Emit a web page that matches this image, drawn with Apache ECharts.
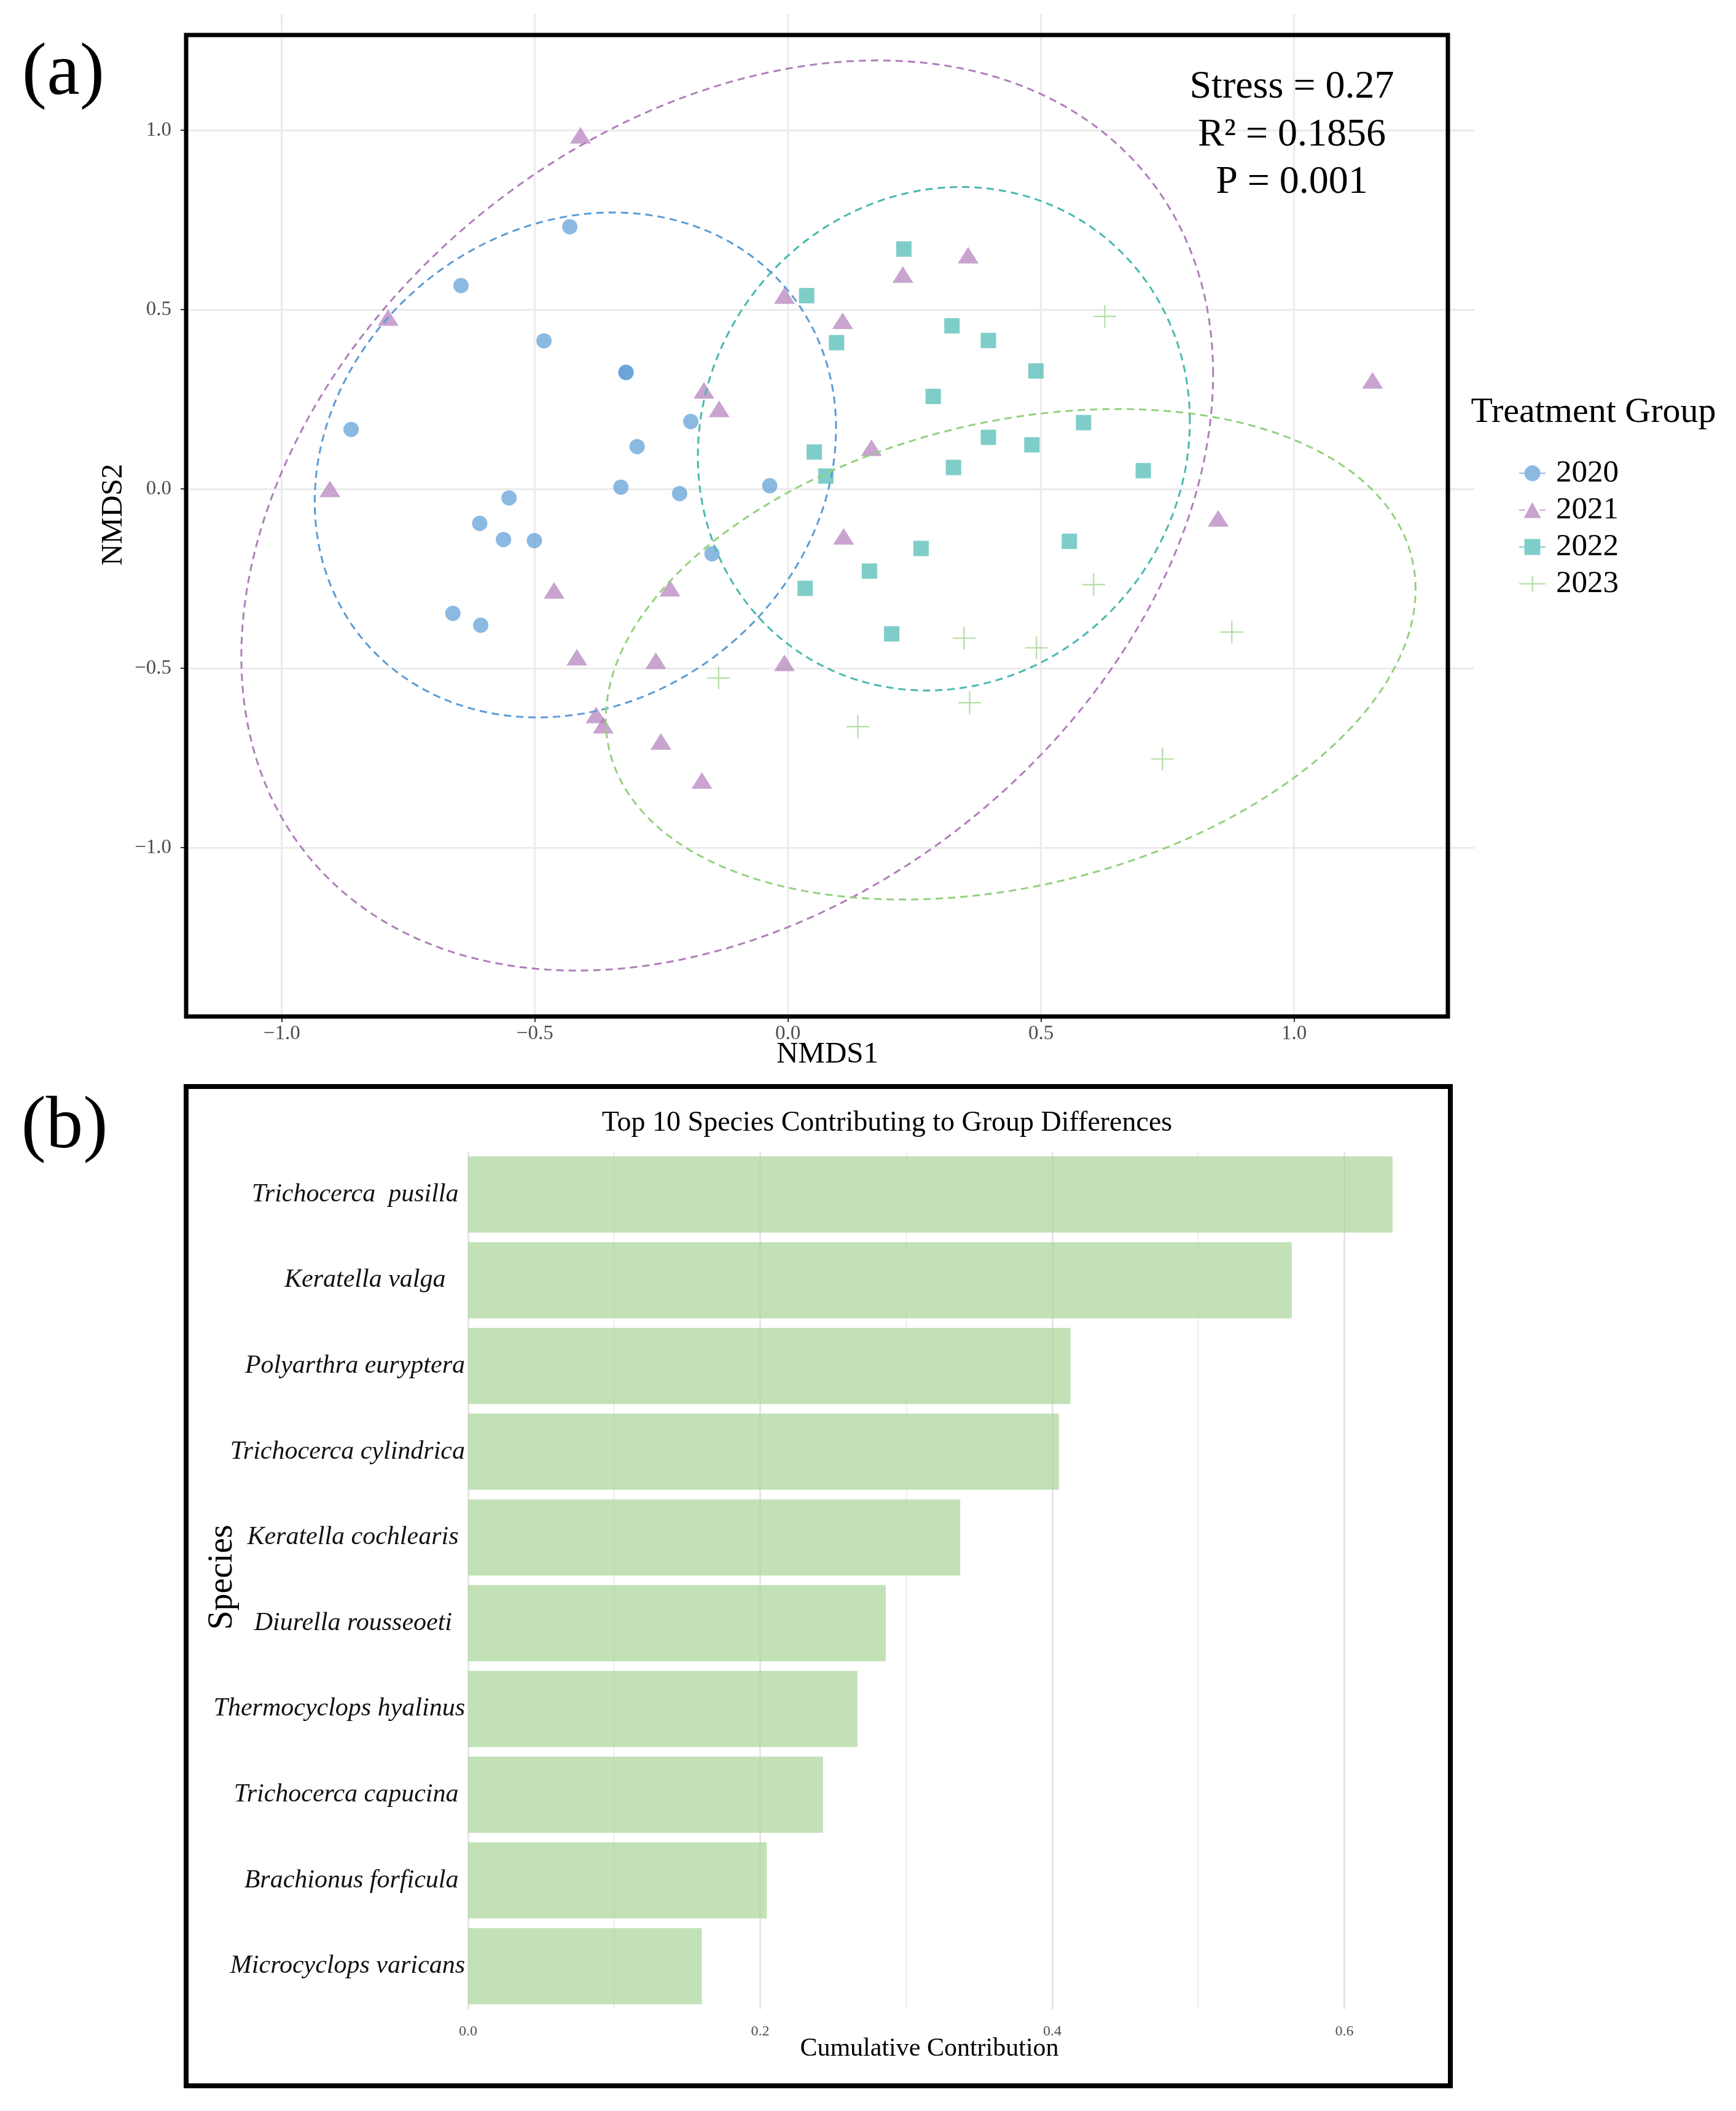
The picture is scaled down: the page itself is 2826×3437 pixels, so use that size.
<!DOCTYPE html>
<html>
<head>
<meta charset="utf-8">
<title>NMDS ordination and top contributing species</title>
<script src="https://cdn.jsdelivr.net/npm/echarts@6/dist/echarts.min.js"></script>
<style>
  html, body { margin: 0; padding: 0; background: #fff; }
  #chart-container { width: 2826px; height: 3437px; }
</style>
</head>
<body>
<div id="chart-container"></div>
<script>
// ---- panel (a): NMDS scores, [NMDS1, NMDS2] ----
const pts2020 = [
  [-0.431, 0.731], [-0.646, 0.567], [-0.482, 0.413], [-0.320, 0.325], [-0.320, 0.325],
  [-0.863, 0.166], [-0.192, 0.188], [-0.298, 0.118], [-0.330, 0.005], [-0.214, -0.013],
  [-0.036, 0.009], [-0.551, -0.025], [-0.609, -0.096], [-0.562, -0.141], [-0.501, -0.144],
  [-0.150, -0.181], [-0.662, -0.347], [-0.607, -0.380]
];
const pts2021 = [
  [-0.410, 0.986], [-0.790, 0.478], [-0.905, 0.000], [-0.007, 0.539], [0.108, 0.469],
  [-0.166, 0.275], [-0.136, 0.223], [0.227, 0.598], [0.356, 0.652], [1.155, 0.303],
  [0.165, 0.115], [0.850, -0.082], [0.110, -0.132], [-0.462, -0.283], [-0.233, -0.277],
  [-0.417, -0.469], [-0.261, -0.479], [-0.007, -0.485], [-0.379, -0.630], [-0.365, -0.659],
  [-0.251, -0.704], [-0.170, -0.813]
];
const pts2022 = [
  [0.229, 0.669], [0.037, 0.539], [0.324, 0.455], [0.396, 0.414], [0.096, 0.408],
  [0.490, 0.329], [0.287, 0.258], [0.584, 0.185], [0.396, 0.144], [0.482, 0.123],
  [0.052, 0.103], [0.327, 0.060], [0.702, 0.051], [0.075, 0.036], [0.556, -0.146],
  [0.263, -0.166], [0.161, -0.229], [0.034, -0.277], [0.205, -0.404]
];
const pts2023 = [
  [0.626, 0.481], [0.604, -0.267], [0.877, -0.399], [0.348, -0.416], [0.491, -0.443],
  [-0.137, -0.527], [0.359, -0.596], [0.138, -0.663], [0.740, -0.753]
];

// confidence ellipses: [centre x, centre y, half width, half height, tilt (correlation)]
const ell2020 = [-0.420, 0.067, 0.515, 0.704, 0.145];
const ell2021 = [-0.120, -0.074, 0.960, 1.269, 0.31];
const ell2022 = [0.308, 0.140, 0.486, 0.702, 0.07];
const ell2023 = [0.440, -0.461, 0.800, 0.684, 0.265];

const groupNames = ["2020", "2021", "2022", "2023"];
const groupColors = ["#5b9bd5", "#b07eba", "#48b8b0", "#93d07e"];
const nmdsTicks = [-1, -0.5, 0, 0.5, 1];

// ---- panel (b): top 10 species ----
const species = [
  "Trichocerca  pusilla ",
  "Keratella valga   ",
  "Polyarthra euryptera",
  "Trichocerca cylindrica",
  "Keratella cochlearis ",
  "Diurella rousseoeti  ",
  "Thermocyclops hyalinus",
  "Trichocerca capucina ",
  "Brachionus forficula ",
  "Microcyclops varicans"
];
const contribution = [0.633, 0.564, 0.4125, 0.4045, 0.337, 0.286, 0.2666, 0.243, 0.2045, 0.160];
const contribTicks = [0, 0.2, 0.4, 0.6];
const contribGrid = [0, 0.1, 0.2, 0.3, 0.4, 0.5, 0.6];

const serif = "Liberation Serif";

let dom = document.getElementById("chart-container");
let myChart = echarts.init(dom, null, { renderer: "canvas" });

function minusFmt(v) {
  return (v < 0 ? "\u2212" : "") + Math.abs(v).toFixed(1);
}

// draw one ellipse from its parameters through the axis scales
function renderEllipse(params, api) {
  const cx = api.value(0), cy = api.value(1);
  const w = api.value(2), h = api.value(3), r = api.value(4);
  const k = Math.sqrt(1 - r * r);
  const points = [];
  for (let i = 0; i <= 200; i++) {
    const t = (i / 200) * Math.PI * 2;
    points.push(api.coord([
      cx + w * Math.cos(t),
      cy + h * (r * Math.cos(t) + k * Math.sin(t))
    ]));
  }
  return {
    type: "polyline",
    shape: { points: points },
    style: { stroke: api.visual("color"), fill: "none", lineWidth: 3, lineDash: [12, 8] }
  };
}

const lineL = "M0,11H9V13H0Z M31,11H40V13H31Z ";
const legendIcons = [
  "path://" + lineL + "M20,0A12,12 0 1,1 19.99,0Z",
  "path://" + lineL + "M20,0L33,24L7,24Z",
  "path://" + lineL + "M8,0H32V24H8Z",
  "path://M0,11H40V13H0Z M19,0H21V24H19Z"
];
const markers = ["circle", "triangle", "rect", "path://M0,9.4H20V10.6H0Z M9.4,0H10.6V20H9.4Z"];
const markerSizes = [25, [34, 27], 25, 37];
const groupPoints = [pts2020, pts2021, pts2022, pts2023];
const groupEllipses = [ell2020, ell2021, ell2022, ell2023];

let series = [];
groupNames.forEach(function (name, i) {
  series.push({
    name: name,
    type: "scatter",
    xAxisIndex: 0,
    yAxisIndex: 0,
    data: groupPoints[i],
    symbol: markers[i],
    symbolSize: markerSizes[i],
    itemStyle: { color: groupColors[i], opacity: 0.7 },
    z: 2
  });
});
groupNames.forEach(function (name, i) {
  series.push({
    name: name + " ellipse",
    type: "custom",
    xAxisIndex: 0,
    yAxisIndex: 0,
    renderItem: renderEllipse,
    encode: { x: 0, y: 1 },
    data: [groupEllipses[i]],
    itemStyle: { color: groupColors[i] },
    clip: false,
    silent: true,
    z: 3
  });
});
series.push({
  name: "Cumulative Contribution",
  type: "bar",
  xAxisIndex: 1,
  yAxisIndex: 1,
  data: contribution,
  barWidth: 124,
  itemStyle: { color: "rgba(170,214,155,0.72)" },
  z: 2
});

function label(text, x, y, size, extra) {
  return Object.assign({
    type: "text",
    x: x,
    y: y,
    z: 50,
    style: {
      text: text,
      font: size + "px \"" + serif + "\"",
      fill: "#000",
      textAlign: "center",
      textVerticalAlign: "middle"
    }
  }, extra || {});
}

let option = {
  animation: false,
  backgroundColor: "#fff",
  textStyle: { fontFamily: serif },
  grid: [
    { left: 303, right: 426, top: 23, bottom: 1782, outerBoundsMode: "none" },
    { left: 762, right: 483, top: 1875, bottom: 166, outerBoundsMode: "none" }
  ],
  xAxis: [
    {
      type: "value",
      gridIndex: 0,
      min: -1.189,
      max: 1.356,
      axisLine: { show: false, onZero: false },
      axisTick: { show: true, length: 9, customValues: nmdsTicks, lineStyle: { color: "#333", width: 2 } },
      axisLabel: { customValues: nmdsTicks, formatter: minusFmt, fontSize: 33, color: "#4d4d4d", margin: 12, fontFamily: serif },
      splitLine: { show: true, lineStyle: { color: "#ebebeb", width: 3 } }
    },
    {
      type: "value",
      gridIndex: 1,
      min: 0,
      max: 0.665,
      axisLine: { show: false, onZero: false },
      axisTick: { show: false, customValues: contribGrid },
      axisLabel: { customValues: contribTicks, formatter: function (v) { return v.toFixed(1); }, fontSize: 24, color: "#4d4d4d", margin: 25, fontFamily: serif },
      splitLine: { show: true, lineStyle: { color: ["#e6e6e6", "#f3f3f3"], width: 3 } }
    }
  ],
  yAxis: [
    {
      type: "value",
      gridIndex: 0,
      min: -1.471,
      max: 1.324,
      axisLine: { show: false, onZero: false },
      axisTick: { show: true, length: 9, customValues: nmdsTicks, lineStyle: { color: "#333", width: 2 } },
      axisLabel: { customValues: nmdsTicks, formatter: minusFmt, fontSize: 33, color: "#4d4d4d", margin: 24, fontFamily: serif },
      splitLine: { show: true, lineStyle: { color: "#ebebeb", width: 3 } }
    },
    {
      type: "category",
      gridIndex: 1,
      data: species,
      inverse: true,
      axisLine: { show: false, onZero: false },
      axisTick: { show: false },
      splitLine: { show: false },
      axisLabel: { interval: 0, fontSize: 42, fontStyle: "italic", color: "#111", margin: 5, fontFamily: serif }
    }
  ],
  legend: {
    orient: "vertical",
    left: 2468,
    top: 740,
    itemWidth: 43,
    itemHeight: 26,
    itemGap: 9,
    textStyle: { fontSize: 51, fontFamily: serif, color: "#000", lineHeight: 40, padding: [0, 0, 0, 12] },
    data: groupNames.map(function (n, i) { return { name: n, icon: legendIcons[i] }; })
  },
  graphic: [
    { type: "rect", z: 40, shape: { x: 303, y: 57, width: 2054, height: 1598 }, style: { fill: "none", stroke: "#000", lineWidth: 7 } },
    { type: "rect", z: 40, shape: { x: 303, y: 1769, width: 2058, height: 1627 }, style: { fill: "none", stroke: "#000", lineWidth: 8 } },
    label("(a)", 103, 121, 121),
    label("(b)", 105, 1836, 121),
    label("Stress = 0.27", 2103, 142, 64),
    label("R\u00b2 = 0.1856", 2103, 220, 64),
    label("P = 0.001", 2103, 297, 64),
    label("NMDS1", 1347, 1717, 49),
    label("NMDS2", 185, 838, 49, { rotation: Math.PI / 2 }),
    label("Treatment Group", 2594, 672, 58),
    label("Top 10 Species Contributing to Group Differences", 1444, 1829, 46),
    label("Cumulative Contribution", 1513, 3336, 42),
    label("Species", 362, 2568, 56, { rotation: Math.PI / 2 })
  ],
  series: series
};

if (option && typeof option === "object") {
  myChart.setOption(option);
}

window.addEventListener("resize", myChart.resize);
</script>
</body>
</html>
